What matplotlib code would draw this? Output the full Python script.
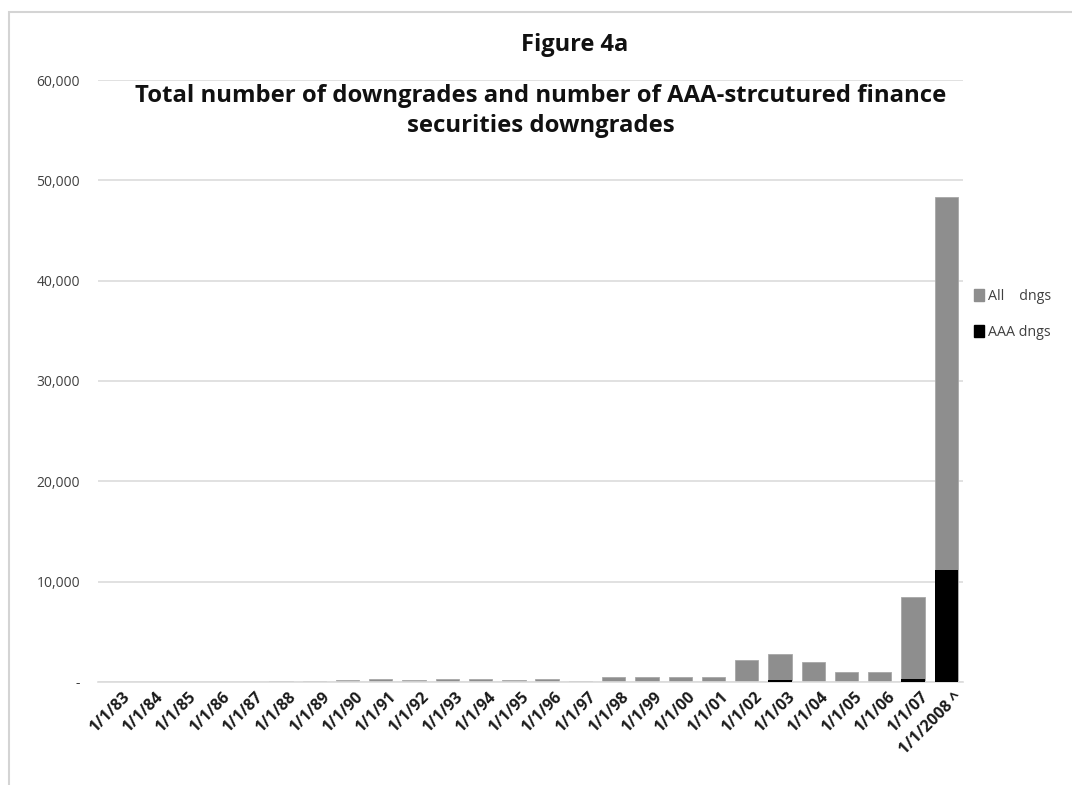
import numpy as np
import matplotlib.pyplot as plt
import matplotlib.transforms as mtransforms
from matplotlib.patches import Rectangle, Patch

# data
dates = ["1/1/83", "1/1/84", "1/1/85", "1/1/86", "1/1/87", "1/1/88", "1/1/89",
         "1/1/90", "1/1/91", "1/1/92", "1/1/93", "1/1/94", "1/1/95", "1/1/96",
         "1/1/97", "1/1/98", "1/1/99", "1/1/00", "1/1/01", "1/1/02", "1/1/03",
         "1/1/04", "1/1/05", "1/1/06", "1/1/07", "1/1/2008 ^"]
all_dngs = [0, 0, 0, 0, 40, 110, 50, 160, 260, 210, 250, 260, 200, 280,
            120, 530, 470, 530, 530, 2150, 2800, 2000, 1000, 1000, 8500, 48300]
aaa_dngs = [0, 0, 0, 0, 0, 0, 0, 0, 0, 0, 0, 0, 0, 0,
            0, 0, 0, 0, 0, 40, 150, 20, 0, 0, 300, 11200]
yticks = [0, 10000, 20000, 30000, 40000, 50000, 60000]
ytick_labels = ["-", "10,000", "20,000", "30,000", "40,000", "50,000", "60,000"]

plt.rcParams['font.family'] = ['Open Sans', 'DejaVu Sans']

fig = plt.figure(figsize=(10.72, 7.85), dpi=100)
ax = fig.add_axes([98 / 1072, 1 - 682 / 785, 865 / 1072, 602 / 785])

x = np.arange(len(dates))
ax.bar(x, all_dngs, width=0.7, color='#8e8e8e', edgecolor='#a8a8a8', linewidth=0.6, zorder=2)
ax.bar(x, aaa_dngs, width=0.7, color='#000000', zorder=3)

ax.set_xlim(-0.5, len(dates) - 0.5)
ax.set_ylim(0, 60000)
ax.set_yticks(yticks)
ax.set_yticklabels(ytick_labels, fontsize=10, color='#404040')
ax.yaxis.grid(True, color='#dcdcdc', linewidth=1.2, zorder=0)
ax.set_axisbelow(True)
ax.tick_params(axis='y', length=0, pad=13)
ax.tick_params(axis='x', length=0, pad=5)
ax.set_xticks(x)
ax.set_xticklabels(dates, rotation=45, ha='right', rotation_mode='anchor',
                   fontsize=11.5, fontweight='bold', color='#1a1a1a')
# nudge the slanted labels a little to the right, like the original
shift = mtransforms.ScaledTranslation(7 / 100, 0, fig.dpi_scale_trans)
for lbl in ax.get_xticklabels():
    lbl.set_transform(lbl.get_transform() + shift)
for s in ['top', 'right', 'left']:
    ax.spines[s].set_visible(False)
ax.spines['bottom'].set_color('#dcdcdc')
ax.spines['bottom'].set_linewidth(1.2)

# titles
fig.text(575 / 1072, 1 - 45 / 785, "Figure 4a", ha='center', va='center',
         fontsize=17, fontweight='bold', color='#111111')
fig.text(541 / 1072, 1 - 111 / 785,
         "Total number of downgrades and number of AAA-strcutured finance\nsecurities downgrades",
         ha='center', va='center', fontsize=17.2, fontweight='bold', color='#111111',
         linespacing=1.38)

# legend
handles = [Patch(facecolor='#8e8e8e', edgecolor='#8e8e8e'),
           Patch(facecolor='#000000', edgecolor='#000000')]
fig.legend(handles, ["All    dngs", "AAA dngs"], loc='upper left',
           bbox_to_anchor=(968 / 1072, 1 - 283 / 785), frameon=False,
           fontsize=10.3, handlelength=0.7, handleheight=0.9, handletextpad=0.3,
           labelspacing=1.5, labelcolor='#404040', borderaxespad=0)

# outer chart frame
fig.add_artist(Rectangle((9 / 1072, -0.1), 1.2, 1.1 - 12 / 785,
                         transform=fig.transFigure, fill=False,
                         edgecolor='#d4d4d4', linewidth=1.5, clip_on=False))

fig.savefig("out.png", dpi=100)
